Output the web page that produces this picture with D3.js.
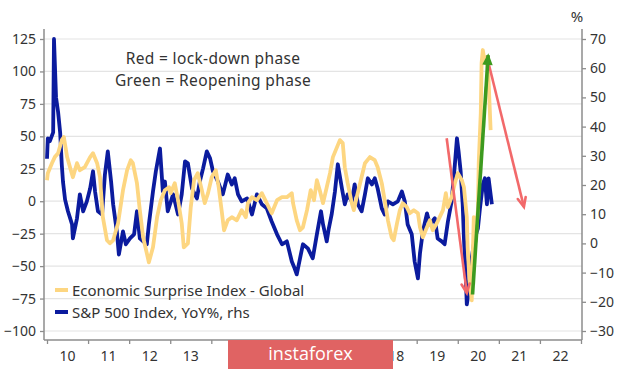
<!DOCTYPE html>
<html>
<head>
    <meta charset="utf-8">
    <title>Economic Surprise Index vs S&amp;P 500</title>
    <style type="text/css">
        body { margin: 0; background: #fff; }
        svg { display: block; font-family: "Noto Sans", "DejaVu Sans", sans-serif; }

        .grid line { stroke: #e4e4e4; stroke-width: 1.2; }

        .axis path { display: none; }
        .axis line { stroke: #8c8c8c; stroke-width: 1.3; }
        .axis text { fill: #333; font-size: 14px; font-family: "Noto Sans", sans-serif; }

        .frame { stroke: #8c8c8c; stroke-width: 1.5; }
        .label { fill: #333; font-size: 15px; }
        .note { font-size: 15.5px; letter-spacing: 0.35px; }
    </style>
</head>
<body>
    <script src="https://d3js.org/d3.v7.min.js"></script>
    <script>

        // Economic Surprise Index - Global (left axis)
        var esiDates = [2010.00, 2010.02, 2010.12, 2010.19, 2010.27, 2010.36, 2010.41, 2010.49, 2010.56, 2010.63,
            2010.73, 2010.80, 2010.92, 2011.05, 2011.12, 2011.22, 2011.29, 2011.36, 2011.46, 2011.53,
            2011.61, 2011.73, 2011.85, 2011.95, 2012.04, 2012.09, 2012.19, 2012.26, 2012.34, 2012.43,
            2012.48, 2012.58, 2012.68, 2012.77, 2012.87, 2012.97, 2013.01, 2013.11, 2013.19, 2013.28,
            2013.33, 2013.43, 2013.50, 2013.58, 2013.67, 2013.77, 2013.84, 2013.92, 2014.01, 2014.11,
            2014.18, 2014.26, 2014.31, 2014.40, 2014.50, 2014.62, 2014.74, 2014.84, 2014.89, 2014.99,
            2015.11, 2015.23, 2015.35, 2015.47, 2015.60, 2015.72, 2015.84, 2015.96, 2015.99, 2016.08,
            2016.16, 2016.23, 2016.33, 2016.42, 2016.50, 2016.57, 2016.64, 2016.72, 2016.81, 2016.89,
            2016.96, 2017.06, 2017.13, 2017.20, 2017.25, 2017.32, 2017.42, 2017.47, 2017.54, 2017.64,
            2017.74, 2017.86, 2017.98, 2018.05, 2018.15, 2018.22, 2018.30, 2018.39, 2018.44, 2018.52,
            2018.59, 2018.66, 2018.76, 2018.83, 2018.93, 2019.03, 2019.08, 2019.15, 2019.25, 2019.32,
            2019.39, 2019.49, 2019.56, 2019.64, 2019.71, 2019.76, 2019.85, 2019.93, 2020.00, 2020.10,
            2020.15, 2020.22, 2020.24, 2020.29, 2020.34, 2020.36, 2020.39, 2020.44, 2020.49, 2020.51,
            2020.56, 2020.58, 2020.61, 2020.66, 2020.71, 2020.75, 2020.80];
        var esiValues = [16.2, 21.6, 29.3, 34.0, 37.0, 47.1, 49.4, 34.0, 26.2, 18.5,
            29.3, 23.9, 26.2, 34.0, 37.0, 29.3, 18.5, -12.3, -30.1, -32.4,
            -30.1, -17.0, 8.5, 23.9, 31.6, 29.3, 13.9, -6.9, -27.8, -40.1,
            -47.1, -35.5, -12.3, 0.8, 8.5, 10.8, 6.2, 13.9, 0.8, -17.0,
            -35.5, -32.4, -4.6, 16.2, 21.6, 8.5, -1.5, 6.2, 18.5, 23.9,
            10.8, -9.3, -22.4, -14.7, -12.3, -14.7, -6.9, -12.3, -1.5, 3.1,
            0.8, 6.2, -1.5, -9.3, 0.8, 3.1, 3.1, 6.2, -1.5, -14.7,
            -22.4, -20.1, -6.9, 8.5, 0.8, 16.2, 8.5, -1.5, 10.8, 21.6,
            34.0, 41.7, 47.1, 44.8, 26.2, 13.9, -1.5, -6.9, 3.1, 16.2,
            29.3, 34.0, 31.6, 26.2, 13.9, 0.8, -14.7, -27.8, -30.1, -17.0,
            -6.9, -1.5, -4.6, -9.3, -6.9, -9.3, -20.1, -27.8, -20.1, -14.7,
            -22.4, -17.0, -12.3, -6.9, 6.2, -4.6, 3.1, 13.9, 21.6, 16.2,
            10.8, -12.3, -35.5, -63.3, -76.4, -47.8, -12.3, -27.8, -6.9, 29.3,
            67.9, 106.5, 116.5, 106.5, 111.1, 93.4, 54.8];

        // S&P 500 Index, YoY% (right axis)
        var spxDates = [2010.00, 2010.02, 2010.07, 2010.15, 2010.17, 2010.22, 2010.27, 2010.32, 2010.36, 2010.39,
            2010.44, 2010.51, 2010.61, 2010.63, 2010.73, 2010.80, 2010.88, 2010.97, 2011.05, 2011.12,
            2011.17, 2011.24, 2011.34, 2011.41, 2011.48, 2011.56, 2011.61, 2011.70, 2011.75, 2011.85,
            2011.92, 2012.02, 2012.12, 2012.19, 2012.26, 2012.34, 2012.43, 2012.48, 2012.58, 2012.65,
            2012.75, 2012.82, 2012.87, 2012.94, 2013.07, 2013.19, 2013.28, 2013.36, 2013.43, 2013.53,
            2013.65, 2013.72, 2013.80, 2013.89, 2013.97, 2014.04, 2014.16, 2014.28, 2014.40, 2014.50,
            2014.57, 2014.65, 2014.74, 2014.87, 2014.99, 2015.11, 2015.23, 2015.35, 2015.47, 2015.60,
            2015.72, 2015.84, 2015.96, 2016.03, 2016.08, 2016.16, 2016.23, 2016.35, 2016.47, 2016.57,
            2016.67, 2016.72, 2016.81, 2016.86, 2016.93, 2017.01, 2017.08, 2017.18, 2017.25, 2017.32,
            2017.42, 2017.49, 2017.57, 2017.66, 2017.74, 2017.81, 2017.91, 2017.98, 2018.05, 2018.15,
            2018.22, 2018.30, 2018.42, 2018.54, 2018.64, 2018.71, 2018.78, 2018.88, 2018.95, 2019.03,
            2019.08, 2019.15, 2019.25, 2019.32, 2019.44, 2019.51, 2019.61, 2019.68, 2019.76, 2019.85,
            2019.93, 2019.98, 2020.02, 2020.07, 2020.12, 2020.15, 2020.19, 2020.22, 2020.27, 2020.34,
            2020.41, 2020.49, 2020.54, 2020.61, 2020.66, 2020.71, 2020.75, 2020.83];
        var spxValues = [29, 36, 35, 38, 70, 50, 45, 38, 27, 21,
            15, 11, 6.5, 1.7, 8.6, 16.8, 11, 14.4, 18.8, 24.7,
            17.8, 11, 9.9, 23.6, 31.5, 21.2, 13.4, 4.1, -3.8, 4.1,
            -0.3, 1.7, 3.1, 11, 1.7, 0.7, -0.3, 6.5, 17.8, 24.7,
            32.5, 17.8, 21.2, 11, 16.8, 9.9, 16.8, 28.1, 27.4, 18.8,
            15.4, 21.2, 25.7, 31.5, 29.1, 24.7, 21.2, 16.8, 23.6, 20.2,
            22.3, 16.8, 14.4, 15.4, 9.9, 16.8, 13.4, 12, 7.5, 3.1,
            -0.3, 0.7, -6.2, -8.6, -10.6, -5.1, -0.3, -1.7, -5.1, 3.1,
            11, 6.5, 0.7, 5.1, 9.9, 17.8, 27.1, 18.8, 13.4, 16.8,
            14.4, 20.2, 13.4, 11, 16.8, 22.3, 20.2, 22.3, 18.8, 12,
            9.9, 14.4, 13.4, 14.4, 17.8, 14.4, 6.5, 3.1, -6.2, -12,
            -3.4, 4.1, 10.3, 6.5, 8.6, 1.7, 0.7, -0.3, 7.5, 14.4,
            27.1, 36, 31.5, 24.7, 13.4, 1.7, -9.6, -20.9, -16.4, -5.1,
            1.7, 5.1, 12, 20.2, 22.3, 13.4, 22.3, 13.4];

        var leftTicks = [-100, -75, -50, -25, 0, 25, 50, 75, 100, 125];
        var rightTicks = [-30, -20, -10, 0, 10, 20, 30, 40, 50, 60, 70];
        var yearTicks = [2010, 2011, 2012, 2013, 2014, 2015, 2016, 2017, 2018, 2019, 2020, 2021, 2022, 2023];
        var yearLabels = ["10", "11", "12", "13", "14", "15", "16", "17", "18", "19", "20", "21", "22"];

        // arrows in (year, rhs %) units
        var arrowNames = ["lockdown", "reopening", "relockdown"];
        var arrowStart = [[2019.73, 36], [2020.36, -17.5], [2020.71, 64]];
        var arrowEnd = [[2020.22, -17], [2020.74, 64.5], [2021.61, 12.5]];

        var legendNames = ["Economic Surprise Index - Global", "S&P 500 Index, YoY%, rhs"];
        var notes = ["Red = lock-down phase", "Green = Reopening phase"];

        var width = 620, height = 369;
        var plotLeft = 44, plotRight = 582, plotTop = 29, plotBottom = 340;
        var stamp = {x: 228, w: 165};   // watermark band over the year labels

        var svg = d3.select("body")
            .append("svg")
            .attr("width", width)
            .attr("height", height);

        var xScale = d3.scaleLinear().domain([2010, 2023]).range([47, 581]);
        var yLeft = d3.scaleLinear().domain([-100, 125]).range([331, 39]);
        var yRight = d3.scaleLinear().domain([-30, 70]).range([331, 39]);

        // gridlines follow the left axis
        svg.append("g")
            .attr("class", "grid")
            .selectAll("line")
            .data(leftTicks)
            .enter()
            .append("line")
            .attr("x1", plotLeft)
            .attr("x2", plotRight)
            .attr("y1", function(d){ return yLeft(d); })
            .attr("y2", function(d){ return yLeft(d); });

        // series
        var esi = esiDates.map(function(d, i){ return [d, esiValues[i]]; });
        var spx = spxDates.map(function(d, i){ return [d, spxValues[i]]; });

        var spxLine = d3.line()
            .x(function(d){ return xScale(d[0]); })
            .y(function(d){ return yRight(d[1]); });
        var esiLine = d3.line()
            .x(function(d){ return xScale(d[0]); })
            .y(function(d){ return yLeft(d[1]); });

        svg.append("path")
            .datum(spx)
            .attr("d", spxLine)
            .attr("fill", "none")
            .attr("stroke", "#0b1b9e")
            .attr("stroke-width", 3.8)
            .attr("stroke-linejoin", "round");

        svg.append("path")
            .datum(esi)
            .attr("d", esiLine)
            .attr("fill", "none")
            .attr("stroke", "#fdd681")
            .attr("stroke-width", 3.8)
            .attr("stroke-linejoin", "round");

        // arrows
        function arrow(i, colour, w, filled){
            var p0 = [xScale(arrowStart[i][0]), yRight(arrowStart[i][1])];
            var p1 = [xScale(arrowEnd[i][0]), yRight(arrowEnd[i][1])];
            var a = Math.atan2(p1[1] - p0[1], p1[0] - p0[0]);
            var len = 10, spread = 0.42;
            var l = [p1[0] - len * Math.cos(a - spread), p1[1] - len * Math.sin(a - spread)];
            var r = [p1[0] - len * Math.cos(a + spread), p1[1] - len * Math.sin(a + spread)];
            var g = svg.append("g").attr("class", "arrow " + arrowNames[i]);
            g.append("line")
                .attr("x1", p0[0]).attr("y1", p0[1])
                .attr("x2", p1[0]).attr("y2", p1[1])
                .attr("stroke", colour)
                .attr("stroke-width", w);
            if (filled) {
                g.append("path")
                    .attr("d", "M" + l + "L" + p1 + "L" + r + "Z")
                    .attr("fill", colour)
                    .attr("stroke", colour)
                    .attr("stroke-width", 1.5);
            } else {
                g.append("path")
                    .attr("d", "M" + l + "L" + p1 + "L" + r)
                    .attr("fill", "none")
                    .attr("stroke", colour)
                    .attr("stroke-width", w)
                    .attr("stroke-linecap", "round");
            }
        }
        arrow(0, "#f2696a", 2.6, false);
        arrow(2, "#f2696a", 2.6, false);
        arrow(1, "#3d9a1f", 3.6, true);

        // axes
        svg.append("g")
            .attr("class", "axis")
            .attr("transform", "translate(" + plotLeft + ",0)")
            .call(d3.axisLeft(yLeft).tickValues(leftTicks).tickSize(4).tickPadding(4));

        svg.append("g")
            .attr("class", "axis")
            .attr("transform", "translate(" + plotRight + ",0)")
            .call(d3.axisRight(yRight).tickValues(rightTicks).tickSize(4).tickPadding(4));

        svg.append("g")
            .attr("class", "axis")
            .attr("transform", "translate(0," + plotBottom + ")")
            .call(d3.axisBottom(xScale).tickValues(yearTicks).tickSize(4).tickFormat(""));

        // year labels sit between ticks; those fully under the watermark are not seen
        var shown = yearLabels.map(function(d, i){ return {text: d, year: yearTicks[i] + 0.5}; })
            .filter(function(d){
                var cx = xScale(d.year);
                return cx + 9 < stamp.x || cx - 9 > stamp.x + stamp.w - 12;
            });

        svg.append("g")
            .attr("class", "axis")
            .selectAll("text")
            .data(shown)
            .enter()
            .append("text")
            .attr("x", function(d){ return xScale(d.year); })
            .attr("y", 357)
            .attr("text-anchor", "middle")
            .attr("dy", "0.32em")
            .text(function(d){ return d.text; });

        svg.append("line").attr("class", "frame")
            .attr("x1", plotLeft).attr("x2", plotLeft).attr("y1", plotTop).attr("y2", plotBottom);
        svg.append("line").attr("class", "frame")
            .attr("x1", plotRight).attr("x2", plotRight).attr("y1", plotTop).attr("y2", plotBottom);
        svg.append("line").attr("class", "frame")
            .attr("x1", plotLeft).attr("x2", plotRight).attr("y1", plotBottom).attr("y2", plotBottom);

        svg.append("text")
            .attr("class", "label")
            .attr("x", 577)
            .attr("y", 22)
            .attr("text-anchor", "middle")
            .text("%");

        // notes
        svg.selectAll(".note")
            .data(notes)
            .enter()
            .append("text")
            .attr("class", "label note")
            .attr("x", 213)
            .attr("y", function(d, i){ return 64 + i * 21.5; })
            .attr("text-anchor", "middle")
            .text(function(d){ return d; });

        // legend
        var legendColours = ["#fdd681", "#0b1b9e"];
        var legend = svg.selectAll(".legend")
            .data(legendNames)
            .enter()
            .append("g")
            .attr("class", "legend")
            .attr("transform", function(d, i){ return "translate(55," + (290 + i * 22) + ")"; });
        legend.append("line")
            .attr("x1", 0).attr("x2", 13)
            .attr("stroke", function(d, i){ return legendColours[i]; })
            .attr("stroke-width", 4);
        legend.append("text")
            .attr("class", "label")
            .attr("x", 17)
            .attr("y", 6)
            .text(function(d){ return d; });

        // watermark
        svg.append("rect")
            .attr("x", stamp.x)
            .attr("y", 340)
            .attr("width", stamp.w)
            .attr("height", 29)
            .attr("fill", "#e06363");
        svg.append("text")
            .attr("x", stamp.x + stamp.w / 2)
            .attr("y", 360)
            .attr("text-anchor", "middle")
            .attr("fill", "#fff")
            .style("font-size", "18px")
            .style("font-family", "Open Sans")
            .text("instaforex");

    </script>
</body>
</html>
